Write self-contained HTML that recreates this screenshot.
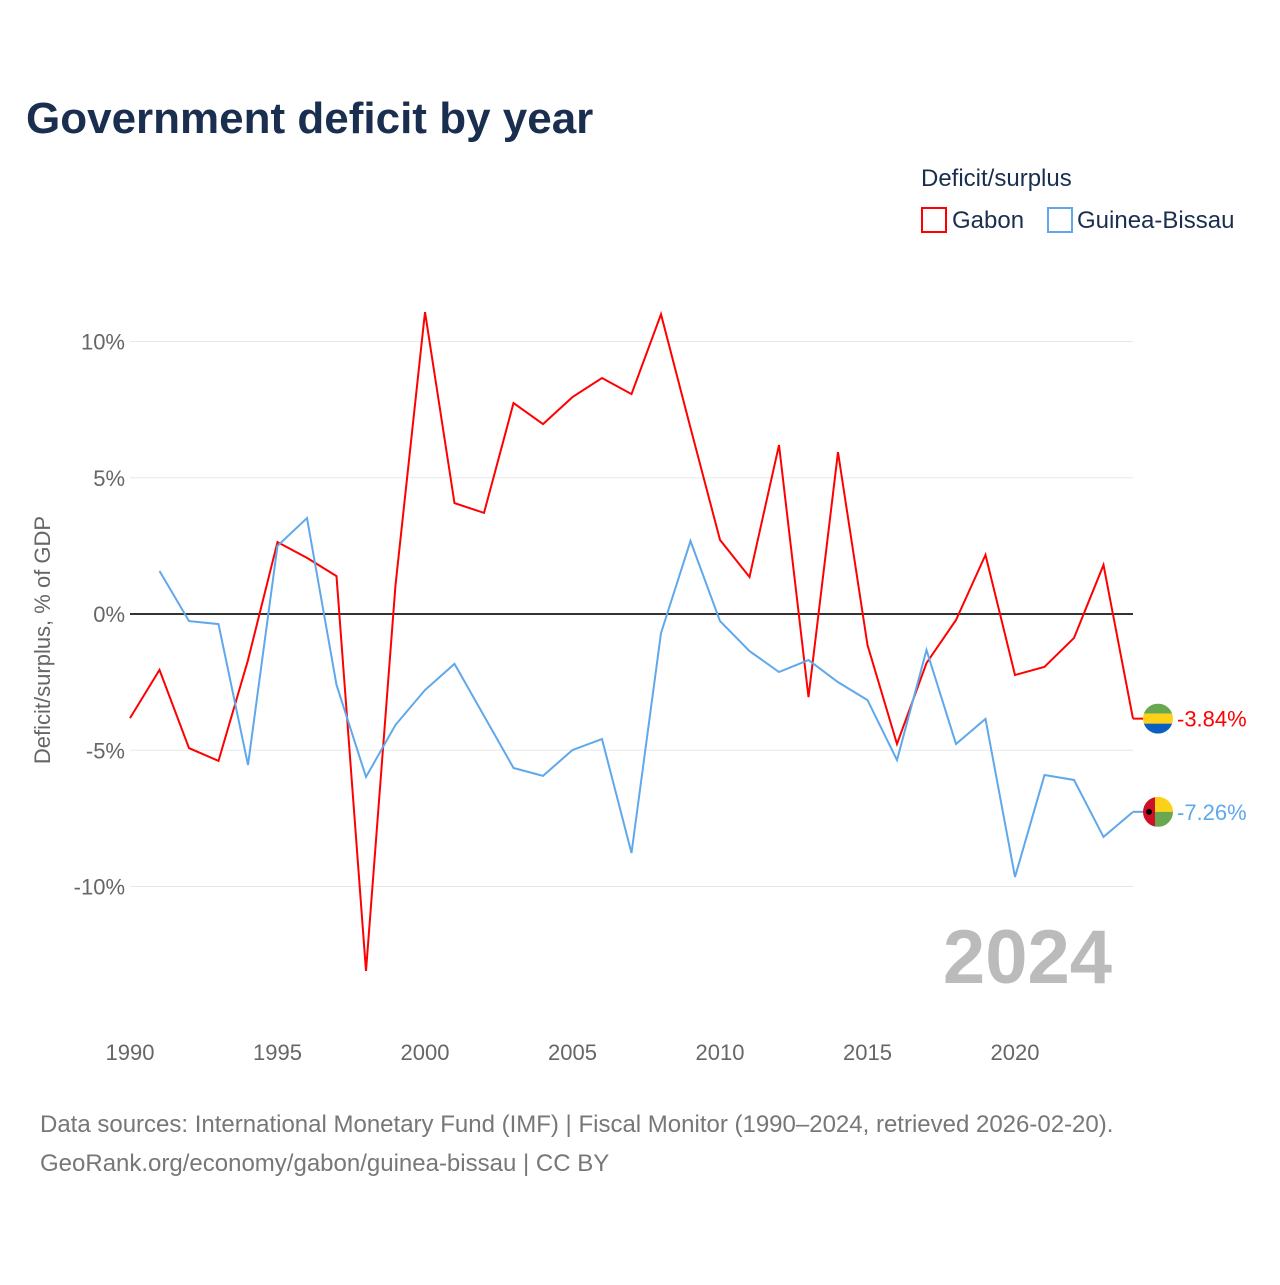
<!DOCTYPE html>
<html><head><meta charset="utf-8"><style>
body{margin:0;width:1280px;height:1280px;background:#fff;font-family:"Liberation Sans",sans-serif;overflow:hidden}
</style></head><body>
<svg id="chart" width="1280" height="1280">
<text x="26" y="133" font-size="44" font-weight="bold" fill="#1a2e4f">Government deficit by year</text>
<text x="921" y="186" font-size="24" fill="#1a2e4f">Deficit/surplus</text>
<g><rect x="922" y="208" width="24" height="24" fill="none" stroke="#f00" stroke-width="2"/><text x="952" y="228" font-size="24" fill="#1a2e4f">Gabon</text></g>
<g><rect x="1048" y="208" width="24" height="24" fill="none" stroke="#5fa8ec" stroke-width="2"/><text x="1077" y="228" font-size="24" fill="#1a2e4f">Guinea-Bissau</text></g>
<text transform="translate(50,640) rotate(-90)" text-anchor="middle" font-size="22" fill="#666">Deficit/surplus, % of GDP</text>
<text x="1112" y="983" text-anchor="end" font-size="76" font-weight="bold" fill="#bbb">2024</text>
<g id="grid"></g><g id="series"></g>
<text x="40" y="1132" font-size="24" fill="#777">Data sources: International Monetary Fund (IMF) | Fiscal Monitor (1990–2024, retrieved 2026-02-20).</text>
<text x="40" y="1171" font-size="24" fill="#777">GeoRank.org/economy/gabon/guinea-bissau | CC BY</text>
</svg>
<script>
const years=[];for(let y=1990;y<=2024;y++)years.push(y);
const gabon=[-3.82,-2.05,-4.92,-5.39,-1.69,2.64,2.06,1.39,-13.1,1.06,11.08,4.07,3.71,7.74,6.97,7.96,8.66,8.07,11.0,6.83,2.72,1.36,6.2,-3.05,5.94,-1.14,-4.77,-1.8,-0.22,2.17,-2.24,-1.94,-0.88,1.8,-3.84];
const guinea=[null,1.58,-0.26,-0.37,-5.54,2.5,3.52,-2.6,-5.98,-4.07,-2.79,-1.83,-3.74,-5.65,-5.94,-4.99,-4.59,-8.77,-0.7,2.68,-0.26,-1.36,-2.13,-1.69,-2.5,-3.16,-5.36,-1.32,-4.77,-3.85,-9.65,-5.91,-6.09,-8.18,-7.26];
const yTicks=[10,5,0,-5,-10];
const xTicks=[1990,1995,2000,2005,2010,2015,2020];
const X=y=>130+(y-1990)*29.5, Y=v=>614-v*27.25;
const NS="http://www.w3.org/2000/svg";
const grid=document.getElementById('grid'), ser=document.getElementById('series');
function mk(tag,attrs,parent){const e=document.createElementNS(NS,tag);for(const k in attrs)e.setAttribute(k,attrs[k]);parent.appendChild(e);return e;}
yTicks.forEach(t=>{
 const l=mk('line',{x1:130,x2:1133,y1:Y(t),y2:Y(t),stroke:t===0?'#333':'#e8e8e8','stroke-width':t===0?2:1},grid);
 
 
 const tx=mk('text',{x:125,y:Y(t)+8,'text-anchor':'end','font-size':22,fill:'#666'},grid);tx.textContent=t+'%';
 
 
});
xTicks.forEach(t=>{
 const tx=mk('text',{x:X(t),y:1060,'text-anchor':'middle','font-size':22,fill:'#666'},grid);tx.textContent=t;
 
 
});
function line(vals,color,name){
 let d='';vals.forEach((v,i)=>{if(v===null)return;d+=(d?'L':'M')+X(years[i])+','+Y(v);});
 const p=mk('path',{d:d,fill:'none',stroke:color,'stroke-width':2},ser);
 
 
}
line(gabon,'#f00','gabon-line');
line(guinea,'#5fa8ec','guinea-bissau-line');
function endLabel(v,color,name,flag){
 const y=Y(v);
 mk('line',{x1:1133,x2:1145,y1:y,y2:y,stroke:color,'stroke-width':2},ser);
 const g=mk('g',{},ser);
 
 
 const id='c'+name;
 const cp=mk('clipPath',{id:id},g);mk('circle',{cx:1158,cy:y,r:15},cp);
 const gg=mk('g',{'clip-path':'url(#'+id+')'},g);
 if(flag==='ga'){mk('rect',{x:1143,y:y-15,width:30,height:10,fill:'#6aa84f'},gg);mk('rect',{x:1143,y:y-5,width:30,height:10,fill:'#fcd116'},gg);mk('rect',{x:1143,y:y+5,width:30,height:10,fill:'#0b5fc0'},gg);}
 else{mk('rect',{x:1143,y:y-15,width:12,height:30,fill:'#ce1126'},gg);mk('rect',{x:1155,y:y-15,width:18,height:15,fill:'#fcd116'},gg);mk('rect',{x:1155,y:y,width:18,height:15,fill:'#6aa84f'},gg);mk('circle',{cx:1149,cy:y,r:3,fill:'#000'},gg);}
 const tx=mk('text',{x:1177,y:y+8,'font-size':22,fill:color},ser);tx.textContent=v.toFixed(2)+'%';
 
 
}
endLabel(gabon[gabon.length-1],'#f00','gabon','ga');
endLabel(guinea[guinea.length-1],'#5fa8ec','guinea-bissau','gw');
</script>
</body></html>
